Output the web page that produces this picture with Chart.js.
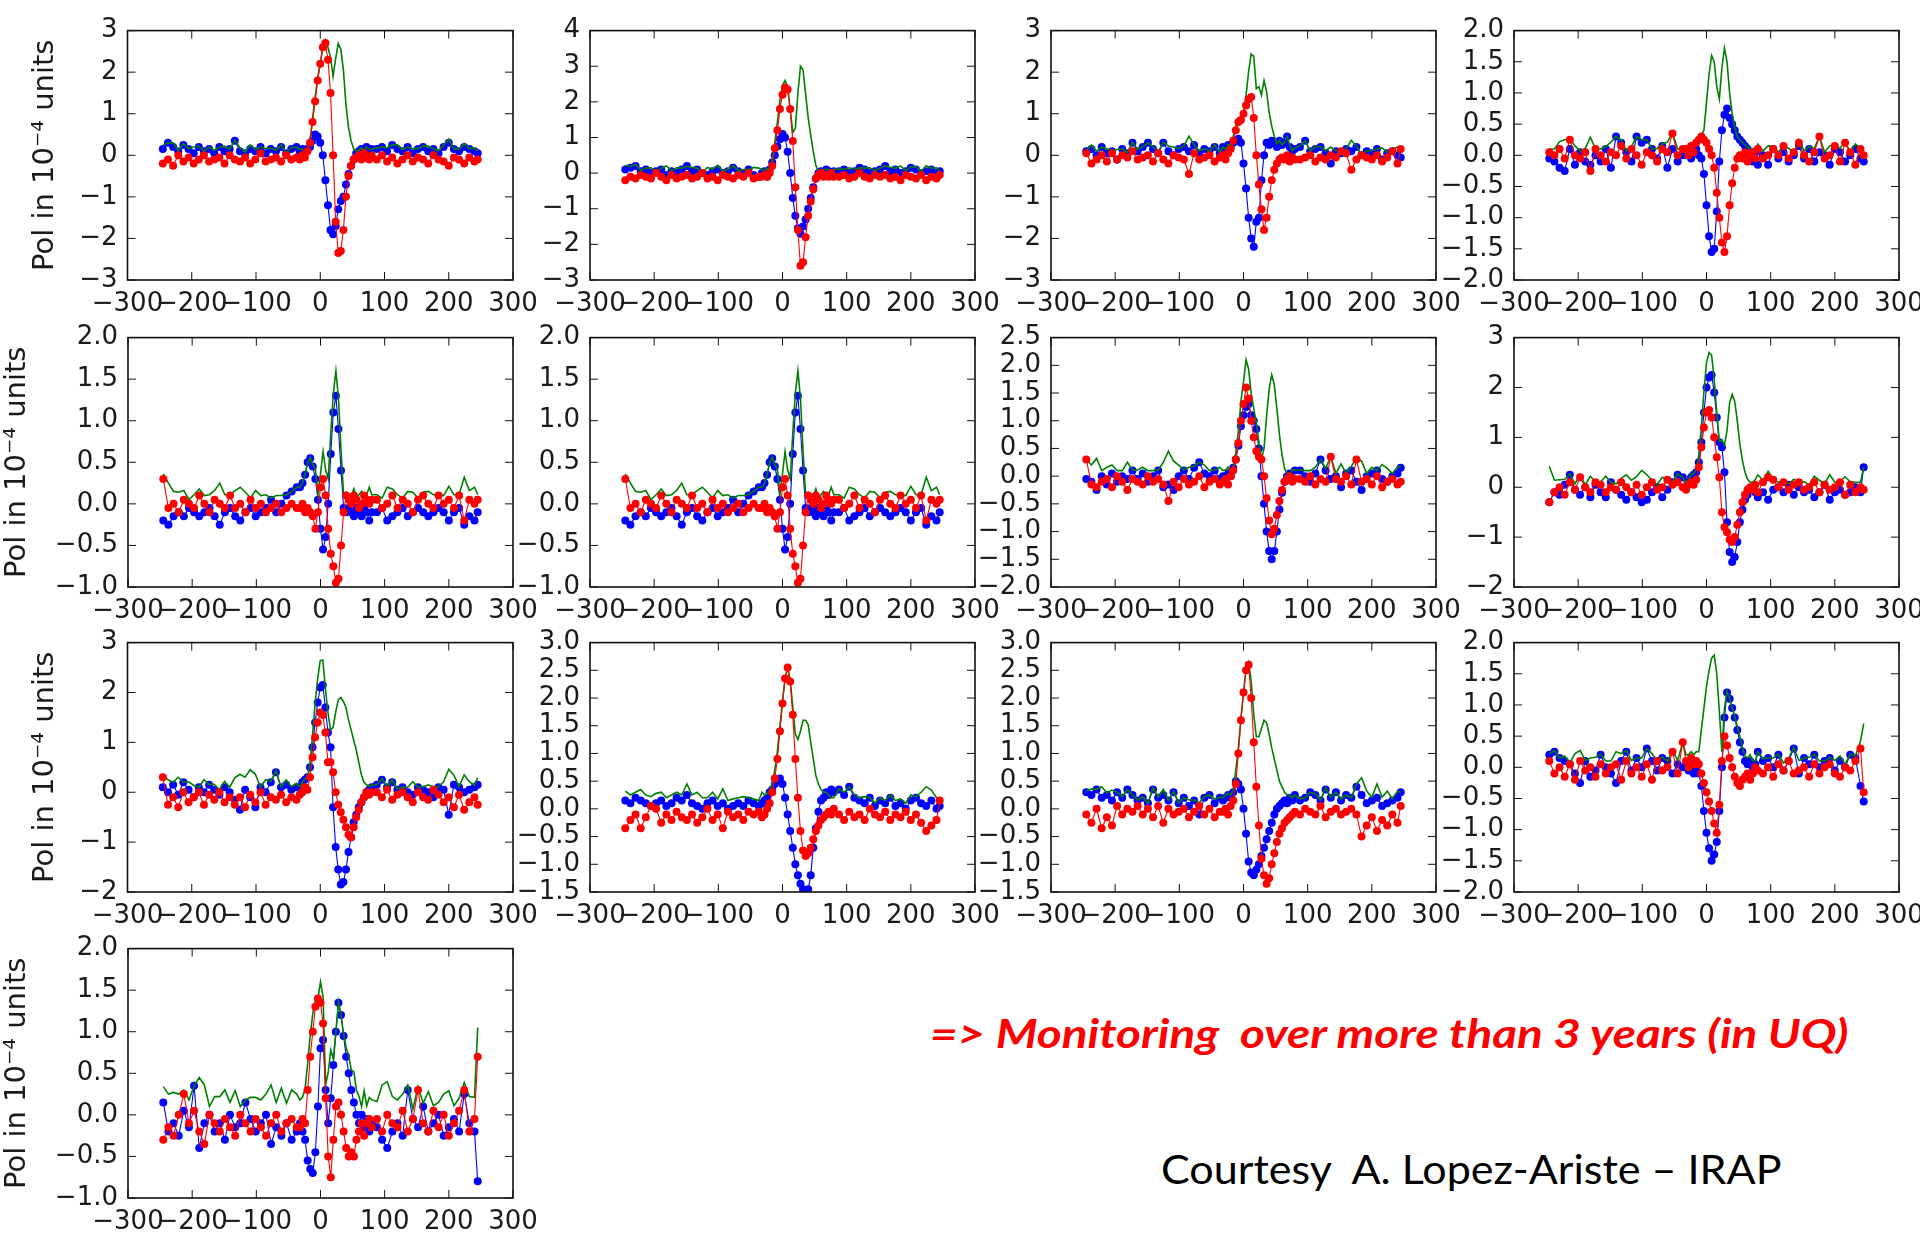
<!DOCTYPE html>
<html lang="en">
<head>
  <meta charset="UTF-8" />
  <title>Polarization monitoring</title>

  <!-- Chart.js for plotting -->
  <script src="https://cdn.jsdelivr.net/npm/chart.js"></script>

  <style>
    /* Page is one white slide */
    body {
      margin: 0;
      width: 1920px;
      height: 1237px;
      background: #fff;
      position: relative;
      overflow: hidden;
    }

    /* Each small plot gets its own canvas */
    canvas.panel {
      position: absolute;
    }

    /* Slide notes */
    .note {
      position: absolute;
      white-space: pre;
      line-height: 1.2;
      transform-origin: left center;
    }
    #monitor {
      color: #ff0000;
      font: italic bold 40px Lato, "Open Sans", sans-serif;
    }
    #courtesy {
      color: #000;
      font: 40px Lato, "Open Sans", sans-serif;
    }
  </style>
</head>
<body>
  <div id="monitor" class="note">=&gt; Monitoring  over more than 3 years (in UQ)</div>
  <div id="courtesy" class="note">Courtesy  A. Lopez-Ariste – IRAP</div>

  <script>
    // x positions shared by every panel
    const xVel = [-245,-237,-229,-221,-213,-205,-197,-189,-181,-173,-165,-157,-149,-141,-133,-125,-117,-109,-101,-93,-85,-77,-69,-61,-53,-45,-37,
      -32,-28,-24,-20,-16,-12,-8,-4,0,4,8,12,16,20,24,28,32,36,40,44,48,52,56,60,64,68,72,76,80,
      88,96,104,112,120,128,136,144,152,160,168,176,184,192,200,208,216,224,232,240,245];

    // x axis ticks
    const xLimits = [-300, 300, 100];

    // y axis [min, max, step] for each panel
    const yLimits = [
      [-3, 3, 1], [-3, 4, 1], [-3, 3, 1], [-2, 2, 0.5],
      [-1, 2, 0.5], [-1, 2, 0.5], [-2, 2.5, 0.5], [-2, 3, 1],
      [-2, 3, 1], [-1.5, 3, 0.5], [-1.5, 3, 0.5], [-2, 2, 0.5],
      [-1, 2, 0.5]
    ];

    const yTitle = "Pol in 10\u207B\u2074 units";

    // panel 1
    const blue1 = [0.15,0.3,0.2,0.1,0.25,0.15,0.05,0.2,0.1,0.15,0.05,0.2,0.1,0.15,0.35,0.1,0.05,0.15,0.1,0.2,0.05,0.15,0.1,0.2,0.05,0.15,0.2,
      0.1,0.15,0.05,0.15,0.2,0.35,0.5,0.45,0.3,0.0,-0.6,-1.2,-1.8,-1.9,-1.7,-1.3,-1.1,-1.0,-0.7,-0.45,-0.25,-0.1,0.05,0.1,0.15,0.1,0.2,0.1,0.15,
      0.15,0.2,0.1,0.25,0.15,0.1,0.2,0.05,0.15,0.2,0.1,0.15,0.05,0.2,0.3,0.15,0.1,0.2,0.15,0.1,0.05];
    const red1 = [-0.2,-0.1,-0.25,0.0,-0.15,-0.05,-0.2,-0.1,0.0,-0.15,-0.1,-0.05,-0.2,0.0,-0.1,-0.15,-0.05,-0.2,-0.1,0.05,-0.15,-0.1,-0.05,-0.15,0.0,-0.1,-0.05,
      -0.1,0.0,-0.05,0.1,0.3,0.8,1.3,1.8,2.2,2.6,2.7,2.3,1.5,0.0,-1.6,-2.35,-2.3,-1.8,-1.0,-0.5,-0.25,-0.1,-0.05,0.0,-0.1,0.05,-0.05,-0.1,0.0,
      -0.1,0.0,-0.15,-0.05,-0.2,-0.1,0.0,-0.15,-0.05,-0.1,-0.2,0.0,-0.1,-0.15,-0.25,-0.05,-0.1,-0.2,-0.05,-0.15,-0.1];
    const green1 = [0.25,0.3,0.3,0.1,0.28,0.16,0.2,0.22,0.1,0.2,0.12,0.2,0.22,0.15,0.36,0.18,0.08,0.25,0.14,0.2,0.16,0.18,0.12,0.25,0.05,0.18,0.2,
      0.15,0.15,0.1,0.2,0.36,0.87,1.4,1.86,2.22,2.6,2.77,2.6,2.35,1.9,2.33,2.69,2.55,2.06,1.22,0.67,0.35,0.15,0.1,0.12,0.18,0.12,0.2,0.14,0.15,
      0.18,0.2,0.18,0.25,0.25,0.14,0.2,0.16,0.16,0.22,0.22,0.15,0.11,0.25,0.39,0.16,0.14,0.28,0.16,0.18,0.11];

    // panel 2
    const blue2 = [0.1,0.15,0.2,0.05,0.1,0.0,0.05,0.1,-0.05,0.05,0.0,0.1,0.2,0.05,0.1,0.0,-0.05,0.05,0.1,0.0,0.05,0.15,0.05,0.0,0.1,-0.05,-0.1,
      0.0,0.05,-0.1,0.1,0.3,0.5,0.75,0.95,1.1,1.0,0.6,0.0,-0.7,-1.2,-1.55,-1.7,-1.5,-1.3,-1.0,-0.7,-0.4,-0.15,0.0,0.05,0.0,0.1,0.05,0.0,0.05,
      0.05,0.1,0.0,0.05,0.15,0.1,0.0,0.05,0.1,0.2,0.05,0.1,0.0,0.05,0.15,0.1,0.0,0.05,0.1,0.0,0.05];
    const red2 = [-0.2,-0.1,-0.15,-0.05,-0.1,-0.15,0.0,-0.1,-0.2,-0.05,-0.15,-0.1,-0.05,-0.15,-0.1,0.0,-0.15,-0.1,-0.2,-0.05,-0.1,-0.15,-0.05,-0.1,0.0,-0.15,-0.1,
      -0.1,-0.05,-0.1,0.0,0.2,0.7,1.2,1.8,2.2,2.4,2.35,1.8,0.9,-0.4,-1.6,-2.6,-2.5,-1.8,-1.2,-0.8,-0.45,-0.15,-0.05,0.0,-0.1,-0.05,-0.1,0.0,-0.1,
      -0.1,-0.05,-0.15,-0.1,0.0,-0.1,-0.15,-0.05,-0.1,-0.05,-0.15,-0.1,-0.2,-0.05,-0.1,-0.15,-0.05,-0.2,-0.1,-0.15,-0.05];
    const green2 = [0.22,0.18,0.25,0.07,0.14,0.15,0.05,0.14,0.2,0.07,0.15,0.14,0.2,0.16,0.14,0.0,0.16,0.11,0.22,0.05,0.11,0.21,0.07,0.1,0.1,0.16,0.14,
      0.1,0.07,0.14,0.1,0.36,0.86,1.42,2.04,2.46,2.6,2.43,1.8,1.14,1.26,2.24,3.0,2.9,2.23,1.56,1.06,0.6,0.21,0.05,0.1,0.1,0.11,0.11,0.05,0.11,
      0.11,0.11,0.15,0.11,0.15,0.14,0.15,0.07,0.14,0.21,0.16,0.14,0.2,0.07,0.18,0.18,0.05,0.21,0.14,0.15,0.07];

    // panel 3
    const blue3 = [0.1,0.15,0.0,0.2,0.05,0.1,-0.1,0.15,0.05,0.3,0.1,0.2,0.3,0.15,0.05,0.3,0.1,0.0,0.15,0.2,0.1,0.25,0.05,0.15,0.1,0.2,0.05,
      0.2,0.1,0.25,0.2,0.3,0.35,0.4,0.3,-0.2,-0.8,-1.5,-2.0,-2.2,-1.6,-1.5,-0.6,0.0,0.3,0.25,0.35,0.3,0.2,0.35,0.25,0.3,0.45,0.2,0.1,0.15,
      0.2,0.35,0.1,0.15,0.2,0.05,-0.2,0.1,0.05,0.15,0.1,0.2,0.0,0.1,0.05,0.15,-0.1,0.05,0.1,0.0,-0.05];
    const red3 = [0.05,-0.2,-0.1,0.0,-0.15,0.05,-0.1,0.0,-0.05,0.1,-0.1,-0.05,0.0,-0.15,0.05,-0.1,-0.2,0.0,-0.05,-0.1,-0.45,0.05,-0.1,-0.05,0.0,-0.15,-0.05,
      0.0,-0.1,0.05,0.15,0.35,0.6,0.8,0.85,1.0,1.2,1.35,1.4,0.9,0.0,-0.7,-1.3,-1.8,-1.5,-1.0,-0.6,-0.35,-0.2,-0.1,-0.05,-0.1,0.0,-0.15,-0.05,-0.1,
      -0.1,-0.05,0.0,-0.15,-0.05,-0.1,0.0,-0.05,0.1,0.05,-0.35,-0.1,0.0,-0.05,-0.1,0.0,-0.15,-0.05,0.1,-0.2,0.15];
    const green3 = [0.11,0.25,0.1,0.2,0.16,0.11,0.14,0.15,0.07,0.32,0.14,0.21,0.3,0.21,0.07,0.32,0.22,0.2,0.16,0.22,0.46,0.25,0.11,0.16,0.1,0.25,0.07,
      0.2,0.14,0.25,0.25,0.46,0.7,0.9,0.9,1.02,1.44,2.02,2.44,2.38,1.6,1.65,1.45,1.8,1.53,1.03,0.7,0.46,0.28,0.36,0.25,0.32,0.45,0.25,0.11,0.18,
      0.22,0.35,0.1,0.21,0.21,0.11,0.2,0.11,0.11,0.16,0.36,0.22,0.0,0.11,0.11,0.15,0.18,0.07,0.14,0.2,0.16];

    // panel 4
    const blue4 = [-0.05,-0.1,-0.2,-0.25,0.1,-0.15,0.05,-0.1,-0.15,0.0,-0.1,0.1,-0.2,0.3,0.2,0.05,-0.1,0.3,0.2,0.25,0.1,-0.05,0.15,-0.2,0.1,-0.1,0.0,
      0.0,0.1,-0.05,0.05,0.1,0.0,-0.05,-0.3,-0.8,-1.3,-1.55,-1.5,-0.9,-0.1,0.4,0.65,0.75,0.6,0.5,0.4,0.3,0.25,0.2,0.15,0.1,0.0,-0.1,0.05,-0.15,
      0.0,-0.15,0.1,-0.05,0.05,-0.1,0.0,0.15,-0.05,0.1,-0.1,0.05,0.0,-0.15,0.1,0.05,-0.1,0.0,0.1,-0.05,-0.1];
    const red4 = [0.05,0.0,0.1,-0.05,0.25,0.0,-0.05,0.05,-0.25,0.1,0.0,-0.1,0.05,0.0,0.15,-0.05,0.1,0.0,-0.15,0.05,0.0,-0.1,0.1,0.05,0.35,0.0,0.1,
      0.1,0.0,0.15,0.05,0.2,0.25,0.3,0.25,0.2,0.1,0.0,-0.2,-0.6,-1.0,-1.4,-1.55,-1.3,-0.8,-0.45,-0.2,-0.05,0.0,-0.05,0.05,-0.1,0.0,0.05,-0.05,0.1,
      -0.05,0.0,0.1,0.0,0.15,-0.05,0.05,0.2,0.0,-0.1,0.05,0.3,-0.05,0.0,0.15,-0.1,0.2,0.05,-0.15,0.1,0.0];
    const green4 = [0.1,0.1,0.22,0.25,0.27,0.15,0.07,0.11,0.29,0.1,0.1,0.14,0.21,0.3,0.25,0.07,0.14,0.3,0.25,0.25,0.1,0.11,0.18,0.21,0.36,0.1,0.1,
      0.15,0.12,0.2,0.1,0.25,0.28,0.32,0.4,0.85,1.3,1.6,1.5,1.1,0.9,1.4,1.72,1.5,1.0,0.67,0.45,0.3,0.25,0.21,0.16,0.14,0.1,0.11,0.07,0.18,
      0.07,0.15,0.14,0.05,0.16,0.11,0.05,0.25,0.07,0.14,0.11,0.3,0.05,0.15,0.18,0.11,0.22,0.05,0.18,0.11,0.1];

    // panel 5 (panel 6 shows the same curves)
    const blue5 = [-0.2,-0.25,-0.15,-0.1,-0.15,-0.05,-0.1,-0.15,-0.1,-0.05,-0.15,-0.25,-0.1,-0.05,-0.15,-0.2,-0.1,-0.05,-0.15,-0.1,-0.05,0.05,-0.1,0.0,0.1,0.15,0.2,
      0.2,0.25,0.35,0.5,0.55,0.45,0.3,0.05,-0.3,-0.55,-0.4,0.0,0.6,1.1,1.3,0.9,0.4,-0.05,-0.1,-0.05,-0.1,-0.15,-0.05,-0.1,-0.15,-0.05,-0.1,-0.2,-0.1,
      -0.1,-0.05,-0.2,-0.15,-0.1,-0.05,-0.15,-0.1,-0.05,-0.1,-0.15,-0.1,-0.05,-0.1,-0.2,-0.1,-0.05,-0.25,-0.15,-0.2,-0.1];
    const red5 = [0.3,-0.05,0.0,-0.1,0.05,0.0,-0.05,0.1,0.0,-0.1,0.05,0.0,-0.05,0.1,-0.05,0.0,-0.1,0.05,-0.05,0.0,-0.1,-0.05,0.0,-0.1,-0.05,0.0,-0.05,
      -0.05,0.0,-0.1,-0.05,-0.1,-0.15,-0.3,-0.1,0.2,0.3,0.1,-0.3,-0.6,-0.75,-0.95,-0.9,-0.5,-0.1,0.1,0.05,0.0,0.1,0.05,-0.05,0.0,0.1,0.05,0.0,0.05,
      0.05,-0.05,0.0,0.1,-0.05,0.05,0.0,-0.1,0.05,0.1,0.0,-0.05,0.1,0.0,0.05,-0.05,0.1,-0.2,0.05,0.0,0.05];
    const green5 = [0.36,0.25,0.15,0.14,0.16,0.05,0.11,0.18,0.1,0.11,0.16,0.25,0.11,0.11,0.16,0.2,0.14,0.07,0.16,0.1,0.11,0.07,0.1,0.1,0.11,0.15,0.2,
      0.2,0.25,0.36,0.5,0.56,0.47,0.42,0.11,0.36,0.63,0.41,0.3,0.85,1.33,1.6,1.27,0.64,0.11,0.14,0.07,0.1,0.18,0.07,0.11,0.15,0.11,0.11,0.2,0.11,
      0.11,0.07,0.2,0.18,0.11,0.07,0.15,0.14,0.07,0.14,0.15,0.11,0.11,0.1,0.21,0.11,0.11,0.32,0.16,0.2,0.11];
    const blue6 = blue5, red6 = red5, green6 = green5;

    // panel 7
    const blue7 = [-0.05,-0.1,-0.25,0.0,-0.15,0.05,-0.1,0.0,-0.05,0.1,-0.05,0.05,-0.1,0.0,0.1,-0.2,-0.15,-0.25,0.0,0.1,-0.05,0.15,0.25,0.05,0.0,0.1,-0.05,
      0.0,-0.1,0.05,0.0,0.15,0.3,0.55,0.9,1.1,1.25,1.3,1.1,1.0,0.85,0.5,0.0,-0.5,-1.0,-1.35,-1.5,-1.35,-1.0,-0.6,-0.3,-0.1,0.0,0.05,-0.05,0.1,
      0.1,0.0,-0.1,0.05,0.3,0.1,-0.05,0.0,-0.2,0.05,0.1,-0.1,-0.25,0.0,0.05,0.1,-0.05,-0.1,0.0,0.05,0.15];
    const red7 = [0.3,-0.15,-0.2,-0.1,-0.05,-0.2,0.0,-0.1,-0.25,-0.05,-0.1,-0.15,0.0,-0.1,-0.05,-0.15,-0.45,-0.1,-0.2,-0.05,-0.15,-0.1,0.0,-0.2,-0.1,-0.05,-0.15,
      -0.1,-0.05,-0.15,0.0,0.1,0.3,0.6,1.0,1.3,1.6,1.4,1.0,0.7,0.45,0.35,0.3,0.0,-0.4,-0.8,-1.05,-0.95,-0.7,-0.45,-0.25,-0.1,-0.05,0.0,-0.1,-0.05,
      -0.05,-0.1,0.0,-0.15,-0.05,-0.1,0.35,-0.05,-0.1,0.0,-0.15,0.3,-0.1,-0.05,-0.15,0.0,-0.2,-0.1,-0.05,-0.15,-0.1];
    const green7 = [0.3,0.2,0.32,0.1,0.16,0.2,0.1,0.1,0.25,0.11,0.11,0.16,0.1,0.1,0.11,0.25,0.45,0.27,0.2,0.11,0.16,0.18,0.25,0.2,0.1,0.11,0.16,
      0.1,0.11,0.16,0.05,0.18,0.42,0.81,1.35,1.7,2.1,1.93,1.49,1.22,0.96,0.61,0.3,0.5,1.08,1.57,1.83,1.65,1.22,0.75,0.39,0.14,0.05,0.05,0.11,0.11,
      0.11,0.1,0.1,0.16,0.3,0.14,0.35,0.05,0.22,0.05,0.18,0.32,0.27,0.05,0.16,0.1,0.21,0.14,0.05,0.16,0.18];

    // panel 8
    const blue8 = [-0.3,-0.1,-0.15,0.05,0.25,-0.05,-0.15,0.0,-0.2,0.05,-0.1,-0.2,0.1,-0.05,-0.15,-0.25,-0.1,-0.2,-0.3,-0.25,-0.1,0.0,-0.2,-0.05,0.1,0.25,0.2,
      0.0,0.1,0.2,0.25,0.3,0.5,0.9,1.5,2.0,2.2,2.25,1.9,1.4,0.9,0.8,0.3,-0.7,-1.3,-1.5,-1.4,-1.1,-0.7,-0.45,-0.25,-0.15,-0.05,0.0,-0.1,-0.2,
      -0.1,-0.25,-0.05,0.0,-0.1,0.05,-0.15,0.0,-0.1,-0.05,-0.2,-0.1,0.05,-0.25,-0.1,-0.05,-0.15,-0.1,0.0,-0.1,0.4];
    const red8 = [-0.3,-0.1,0.0,-0.15,0.1,-0.05,0.2,0.0,-0.1,0.1,0.05,-0.1,0.0,-0.05,0.1,0.0,-0.1,0.05,-0.15,0.0,0.1,-0.05,0.0,0.15,0.05,0.1,0.0,
      -0.05,0.05,0.1,0.05,0.15,0.4,0.8,1.2,1.5,1.55,1.4,1.0,0.6,0.2,-0.5,-0.8,-0.9,-1.05,-1.1,-1.0,-0.75,-0.5,-0.3,-0.15,-0.05,0.0,-0.05,0.05,-0.1,
      0.1,0.2,0.15,0.0,0.1,-0.05,0.05,0.1,-0.05,0.0,0.1,-0.1,0.05,-0.05,0.0,0.1,-0.15,0.05,-0.1,0.0,-0.05];
    const green8 = [0.42,0.14,0.15,0.16,0.27,0.07,0.25,0.05,0.22,0.11,0.11,0.22,0.1,0.07,0.18,0.25,0.14,0.21,0.34,0.25,0.14,0.05,0.2,0.16,0.11,0.27,0.2,
      0.1,0.15,0.25,0.28,0.35,0.65,1.2,1.92,2.5,2.7,2.65,2.15,1.5,0.92,0.94,0.85,1.14,1.69,1.86,1.72,1.33,0.86,0.54,0.3,0.16,0.1,0.1,0.15,0.25,
      0.14,0.32,0.16,0.1,0.14,0.07,0.16,0.1,0.11,0.05,0.22,0.14,0.07,0.25,0.1,0.11,0.21,0.11,0.1,0.1,0.4];

    // panel 9
    const blue9 = [0.1,0.0,0.15,-0.05,0.2,0.05,-0.1,0.1,0.0,0.15,0.05,-0.05,0.1,0.0,-0.15,-0.35,0.05,-0.1,-0.3,0.1,0.0,0.2,0.4,0.1,0.15,0.05,0.1,
      0.1,0.2,0.25,0.3,0.5,0.9,1.4,1.8,2.1,2.15,1.7,1.2,0.9,-0.3,-1.1,-1.55,-1.85,-1.8,-1.55,-1.2,-0.9,-0.6,-0.45,-0.3,-0.2,-0.1,0.0,0.05,0.1,
      0.15,0.25,0.1,0.2,0.05,0.1,0.0,-0.05,0.1,0.05,0.0,-0.1,0.1,0.05,-0.45,0.15,0.1,0.0,0.05,0.1,0.15];
    const red9 = [0.3,-0.25,-0.1,-0.3,0.0,-0.2,-0.1,0.0,-0.25,-0.05,-0.15,0.0,-0.2,-0.1,-0.25,-0.1,-0.3,-0.05,-0.2,0.0,-0.25,-0.1,-0.15,-0.05,-0.2,-0.1,-0.15,
      -0.05,0.0,0.1,0.05,0.3,0.7,1.1,1.4,1.6,1.55,1.2,0.6,0.6,0.4,0.0,-0.25,-0.4,-0.55,-0.7,-0.85,-0.9,-0.7,-0.5,-0.35,-0.2,-0.1,0.0,-0.05,0.0,
      0.0,-0.1,0.05,-0.15,-0.05,0.0,-0.1,-0.2,0.0,-0.1,-0.15,0.05,-0.05,-0.2,-0.1,-0.3,-0.05,-0.35,-0.2,-0.1,-0.25];
    const green9 = [0.32,0.25,0.2,0.3,0.2,0.21,0.14,0.1,0.25,0.16,0.16,0.05,0.22,0.1,0.29,0.36,0.3,0.45,0.36,0.1,0.25,0.22,0.43,0.11,0.25,0.11,0.18,
      0.11,0.2,0.27,0.3,0.58,1.14,1.78,2.28,2.64,2.65,2.08,1.6,1.25,1.3,1.6,1.85,1.9,1.82,1.7,1.45,1.25,1.05,0.85,0.6,0.35,0.2,0.15,0.12,0.15,
      0.15,0.27,0.11,0.25,0.07,0.1,0.1,0.21,0.1,0.11,0.15,0.11,0.11,0.21,0.46,0.34,0.11,0.35,0.21,0.14,0.29];

    // panel 10
    const blue10 = [0.15,0.1,0.2,0.15,0.1,0.05,0.1,0.15,0.05,0.1,0.2,0.15,0.25,0.1,0.05,0.0,0.1,0.15,0.05,0.1,0.0,0.05,0.1,0.05,0.15,0.1,0.05,
      0.1,0.15,0.2,0.3,0.35,0.45,0.5,0.55,0.45,0.2,-0.1,-0.4,-0.7,-1.0,-1.2,-1.35,-1.45,-1.5,-1.45,-1.2,-0.7,-0.35,-0.05,0.15,0.2,0.3,0.25,0.35,0.3,
      0.35,0.25,0.4,0.2,0.15,0.1,0.2,0.05,0.15,0.1,0.2,0.05,0.1,0.0,0.15,0.2,0.1,0.05,0.15,0.0,0.05];
    const red10 = [-0.35,-0.2,-0.1,-0.35,-0.15,0.05,0.0,-0.25,-0.1,-0.2,-0.05,-0.15,-0.2,-0.1,-0.25,-0.15,0.0,-0.2,-0.1,-0.35,-0.05,-0.15,-0.1,-0.2,-0.05,-0.1,-0.05,
      -0.15,-0.1,0.0,0.1,0.3,0.55,0.9,1.4,1.9,2.35,2.55,2.3,1.7,0.9,0.2,-0.4,-0.75,-0.85,-0.8,-0.7,-0.55,-0.4,-0.3,-0.2,-0.15,-0.1,-0.05,-0.1,0.0,
      -0.1,-0.2,-0.05,-0.15,-0.1,-0.2,0.0,-0.1,-0.15,-0.05,-0.2,-0.1,-0.15,-0.05,-0.2,-0.1,-0.25,-0.4,-0.3,-0.2,0.15];
    const green10 = [0.32,0.25,0.3,0.35,0.25,0.22,0.28,0.3,0.2,0.25,0.3,0.25,0.45,0.25,0.3,0.2,0.2,0.3,0.18,0.36,0.15,0.18,0.2,0.22,0.2,0.18,0.15,
      0.3,0.25,0.28,0.32,0.46,0.71,1.03,1.5,1.95,2.36,2.55,2.33,1.84,1.35,1.25,1.4,1.6,1.6,1.52,1.2,0.9,0.6,0.45,0.35,0.3,0.3,0.25,0.2,0.2,
      0.36,0.3,0.4,0.25,0.2,0.22,0.2,0.11,0.2,0.15,0.25,0.15,0.18,0.1,0.25,0.22,0.3,0.4,0.34,0.2,0.16];

    // panel 11
    const blue11 = [0.3,0.25,0.35,0.2,0.25,0.15,0.3,0.2,0.35,0.25,0.15,0.2,0.1,0.35,0.2,0.25,0.15,0.3,0.1,0.2,0.05,0.15,-0.1,0.2,0.25,0.1,0.2,
      0.15,0.2,0.25,0.2,0.3,0.5,0.45,0.35,0.0,-0.45,-0.95,-1.15,-1.2,-1.1,-1.0,-0.85,-0.7,-0.55,-0.4,-0.25,-0.1,0.0,0.05,0.1,0.15,0.1,0.2,0.15,0.25,
      0.15,0.2,0.3,0.25,0.15,0.35,0.2,0.3,0.15,0.25,0.2,0.4,0.25,0.1,0.15,0.2,0.05,0.1,0.15,0.2,0.3];
    const red11 = [-0.1,-0.25,0.0,-0.35,-0.15,-0.3,0.05,-0.1,0.0,-0.05,0.05,-0.1,0.0,-0.15,0.05,-0.25,0.0,-0.1,-0.05,0.0,-0.15,-0.05,0.05,-0.1,0.0,-0.15,-0.05,
      -0.05,0.0,-0.1,0.05,0.15,0.45,1.0,1.6,2.1,2.5,2.6,2.0,1.2,0.4,-0.3,-0.9,-1.2,-1.35,-1.25,-1.0,-0.8,-0.6,-0.45,-0.35,-0.25,-0.2,-0.15,-0.1,-0.05,
      -0.1,0.0,-0.05,-0.1,0.05,-0.15,-0.05,0.0,-0.1,-0.05,0.0,-0.1,-0.5,-0.3,-0.15,-0.4,-0.2,-0.3,-0.1,-0.25,0.05];
    const green11 = [0.32,0.36,0.35,0.4,0.29,0.34,0.3,0.22,0.35,0.25,0.16,0.22,0.1,0.38,0.21,0.35,0.15,0.32,0.11,0.2,0.16,0.16,0.11,0.22,0.25,0.18,0.21,
      0.2,0.25,0.28,0.25,0.35,0.7,1.1,1.64,2.1,2.54,2.65,2.3,1.7,1.3,1.3,1.45,1.6,1.55,1.35,1.1,0.9,0.7,0.5,0.4,0.3,0.25,0.25,0.2,0.25,
      0.18,0.2,0.3,0.27,0.16,0.38,0.21,0.3,0.18,0.25,0.2,0.45,0.56,0.32,0.21,0.45,0.21,0.32,0.18,0.32,0.3];

    // panel 12
    const blue12 = [0.2,0.25,0.15,0.1,0.05,-0.1,-0.25,0.1,-0.15,-0.05,0.2,0.0,-0.1,-0.25,0.1,0.25,-0.05,0.15,0.0,0.3,0.1,-0.05,0.15,0.1,-0.1,0.05,0.0,
      0.0,-0.05,-0.05,-0.1,-0.05,-0.1,-0.3,-0.7,-1.05,-1.3,-1.5,-1.4,-1.2,-0.7,0.0,0.8,1.2,1.1,0.95,0.8,0.6,0.4,0.25,0.1,0.05,0.1,0.0,0.05,0.25,
      0.1,0.15,0.0,0.2,-0.05,0.1,0.3,-0.1,0.15,0.05,0.2,0.0,0.1,0.15,-0.05,0.1,0.0,0.2,0.15,-0.3,-0.55];
    const red12 = [0.1,-0.1,0.0,-0.15,0.05,-0.2,0.1,-0.05,0.0,-0.15,0.05,-0.1,0.0,0.05,-0.2,0.1,-0.1,0.0,-0.15,0.05,-0.2,0.1,-0.05,0.0,0.25,-0.1,0.4,
      0.1,0.0,0.15,0.05,0.1,0.05,-0.1,-0.25,-0.4,-0.55,-0.7,-0.9,-1.05,-0.6,0.1,0.5,0.35,0.15,0.0,-0.15,-0.25,-0.3,-0.2,-0.15,-0.1,-0.2,-0.1,0.0,-0.05,
      -0.1,0.0,-0.15,0.05,-0.05,0.1,-0.1,-0.05,0.0,-0.15,0.05,-0.1,0.0,0.05,-0.1,-0.15,0.0,-0.05,0.1,0.3,-0.4];
    const green12 = [0.22,0.27,0.15,0.18,0.07,0.22,0.27,0.11,0.15,0.16,0.21,0.1,0.1,0.25,0.22,0.27,0.11,0.15,0.15,0.3,0.22,0.11,0.16,0.1,0.27,0.11,0.4,
      0.2,0.2,0.25,0.2,0.25,0.25,0.6,0.95,1.3,1.55,1.75,1.8,1.5,0.9,0.25,0.95,1.22,1.1,0.95,0.82,0.65,0.5,0.32,0.18,0.15,0.2,0.1,0.1,0.25,
      0.14,0.15,0.15,0.21,0.07,0.14,0.32,0.11,0.15,0.16,0.21,0.1,0.1,0.16,0.11,0.18,0.05,0.21,0.18,0.42,0.7];

    // panel 13
    const blue13 = [0.15,-0.2,-0.1,-0.25,0.05,-0.15,0.35,-0.4,-0.1,0.0,-0.2,-0.1,-0.3,0.0,-0.15,-0.1,0.15,-0.05,-0.2,-0.1,0.0,-0.35,-0.15,-0.25,-0.1,-0.3,-0.2,
      -0.1,-0.2,-0.3,-0.55,-0.65,-0.7,-0.45,0.1,0.8,0.9,0.3,-0.1,0.2,0.6,1.0,1.35,1.2,0.95,0.7,0.5,0.3,0.15,0.0,-0.1,0.0,-0.15,-0.05,-0.2,-0.1,
      -0.15,-0.3,-0.4,-0.2,-0.1,-0.25,0.3,-0.05,-0.15,0.1,-0.2,-0.1,0.0,-0.25,-0.15,-0.05,-0.2,0.25,-0.1,-0.2,-0.8];
    const red13 = [-0.3,-0.15,-0.25,0.0,0.25,-0.1,0.05,-0.2,-0.35,0.0,-0.1,-0.2,-0.05,-0.15,-0.25,0.0,-0.1,-0.2,-0.05,-0.15,-0.25,-0.1,0.0,-0.2,-0.1,-0.05,-0.15,
      -0.15,-0.05,-0.1,0.3,0.7,1.0,1.3,1.4,1.35,1.1,0.2,-0.5,-0.75,-0.3,0.1,0.15,0.0,-0.2,-0.4,-0.5,-0.45,-0.5,-0.3,-0.2,-0.1,-0.25,-0.1,-0.05,-0.15,
      -0.05,-0.2,0.0,-0.1,-0.15,0.05,-0.2,-0.05,0.3,-0.1,-0.2,0.05,-0.15,0.0,-0.25,-0.1,0.05,0.3,-0.2,-0.05,0.7];
    const green13 = [0.34,0.25,0.27,0.25,0.3,0.18,0.35,0.45,0.36,0.1,0.22,0.22,0.3,0.15,0.29,0.1,0.18,0.21,0.21,0.18,0.25,0.36,0.15,0.32,0.14,0.3,0.25,
      0.18,0.21,0.32,0.62,0.96,1.22,1.38,1.4,1.6,1.42,0.36,0.51,0.78,0.67,1.0,1.36,1.2,0.97,0.81,0.71,0.54,0.52,0.3,0.22,0.1,0.29,0.11,0.21,0.18,
      0.16,0.36,0.4,0.22,0.18,0.25,0.36,0.07,0.34,0.14,0.28,0.11,0.15,0.25,0.29,0.11,0.2,0.39,0.22,0.21,1.05];

    const panelBlue = [blue1, blue2, blue3, blue4, blue5, blue6, blue7, blue8, blue9, blue10, blue11, blue12, blue13];
    const panelRed = [red1, red2, red3, red4, red5, red6, red7, red8, red9, red10, red11, red12, red13];
    const panelGreen = [green1, green2, green3, green4, green5, green6, green7, green8, green9, green10, green11, green12, green13];

    // Where the plot boxes sit on the slide
    const colLeft = [127.5, 590, 1051, 1514];
    const rowTop = [25, 332, 637, 943];
    const titleCenter = [45.5, 17, 45.5, 17];
    const PW = 385, PH = 255;

    Chart.defaults.font.family = "'DejaVu Sans', sans-serif";

    // Tick text with a real minus sign
    function fmtTick(v, dec) {
      const s = Number(v).toFixed(dec);
      return s.replace('-', '\u2212');
    }

    // Box round the plot plus inward tick marks on all four sides
    const frame = {
      id: 'frame',
      afterDatasetsDraw(chart) {
        const { ctx, chartArea: a, scales: { x, y } } = chart;
        ctx.save();
        ctx.strokeStyle = '#111';
        ctx.lineWidth = 1;
        ctx.beginPath();
        x.ticks.forEach(t => {
          const px = x.getPixelForValue(t.value);
          ctx.moveTo(px, a.bottom); ctx.lineTo(px, a.bottom - 8);
          ctx.moveTo(px, a.top); ctx.lineTo(px, a.top + 8);
        });
        y.ticks.forEach(t => {
          const py = y.getPixelForValue(t.value);
          ctx.moveTo(a.left, py); ctx.lineTo(a.left + 8, py);
          ctx.moveTo(a.right, py); ctx.lineTo(a.right - 8, py);
        });
        ctx.stroke();
        ctx.lineWidth = 1.6;
        ctx.strokeRect(a.left, a.top, a.right - a.left, a.bottom - a.top);
        ctx.restore();
      }
    };

    function series(vals, color, dots) {
      return {
        data: xVel.map((x, k) => ({ x: x, y: vals[k] })),
        showLine: true,
        borderColor: color,
        borderWidth: dots ? 1.1 : 1.6,
        pointRadius: dots ? 4 : 0,
        pointBackgroundColor: color,
        pointBorderWidth: 0,
        tension: 0
      };
    }

    function makePanel(i) {
      const row = Math.floor(i / 4), col = i % 4;
      const L = colLeft[col], T = rowTop[row];
      const hasTitle = col === 0;
      const titleSize = 29;
      const axW = hasTitle ? L - (titleCenter[row] - titleSize / 2) : 100;
      const padT = 20, padR = 40, axH = 50;
      const [yMin, yMax, yStep] = yLimits[i];
      const dec = yStep < 1 ? 1 : 0;

      const cv = document.createElement('canvas');
      cv.className = 'panel';
      cv.width = Math.round(axW + PW + padR);
      cv.height = padT + PH + axH;
      cv.style.left = (L - axW) + 'px';
      cv.style.top = (T - padT) + 'px';
      document.body.appendChild(cv);

      new Chart(cv, {
        type: 'scatter',
        data: {
          datasets: [
            series(panelRed[i], '#ff0000', true),
            series(panelGreen[i], '#008000', false),
            series(panelBlue[i], '#0000ff', true)
          ]
        },
        options: {
          responsive: false,
          animation: false,
          devicePixelRatio: 1,
          layout: { padding: { left: 0, top: padT, right: padR, bottom: 0 } },
          plugins: { legend: { display: false }, tooltip: { enabled: false } },
          scales: {
            x: {
              type: 'linear',
              min: xLimits[0], max: xLimits[1],
              grid: { display: false, drawTicks: false },
              border: { display: false },
              ticks: {
                stepSize: xLimits[2], autoSkip: false, maxRotation: 0, minRotation: 0,
                padding: 9, color: '#1a1a1a', font: { size: 26 },
                callback: v => fmtTick(v, 0)
              },
              afterFit: s => { s.height = axH; }
            },
            y: {
              type: 'linear',
              min: yMin, max: yMax,
              grid: { display: false, drawTicks: false },
              border: { display: false },
              ticks: {
                stepSize: yStep, autoSkip: false,
                padding: 10, color: '#1a1a1a', font: { size: 26 },
                callback: v => fmtTick(v, dec)
              },
              title: {
                display: hasTitle, text: yTitle, color: '#1a1a1a', padding: 0,
                font: { size: titleSize, lineHeight: 1 }
              },
              afterFit: s => { s.width = axW; }
            }
          }
        },
        plugins: [frame]
      });
    }

    for (let i = 0; i < yLimits.length; i++) makePanel(i);

    // Place a slide note: left edge, vertical centre, and width to fill
    function placeNote(id, left, centerY, width) {
      const el = document.getElementById(id);
      el.style.left = left + 'px';
      el.style.top = (centerY - el.offsetHeight / 2) + 'px';
      el.style.transform = 'scaleX(' + (width / el.offsetWidth) + ')';
    }
    placeNote('monitor', 930, 1033, 919);
    placeNote('courtesy', 1161, 1169, 621);
  </script>
</body>
</html>
